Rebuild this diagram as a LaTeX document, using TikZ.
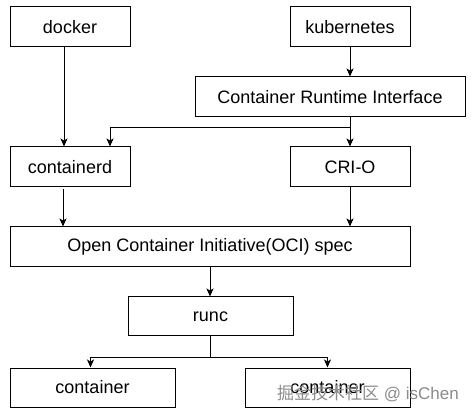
\documentclass[tikz,border=0pt]{standalone}
\usepackage{fontspec}
\setmainfont{Liberation Sans}
\newfontfamily\cjkfont{Noto Sans CJK SC}
\usetikzlibrary{arrows.meta,calc}
\tikzset{
  box/.style={draw=black, line width=1pt, rectangle, inner sep=0pt, font=\fontsize{18}{21}\selectfont},
  arr/.style={draw=black, line width=1pt, -{Stealth[length=8pt,width=7pt,inset=2pt]}},
  ln/.style={draw=black, line width=1pt},
}
\begin{document}
\begin{tikzpicture}[x=1pt,y=-1pt]
\useasboundingbox (0,0) rectangle (472,417);
\fill[white] (0,0) rectangle (472,417);
\node[box, minimum width=120pt, minimum height=40pt] (docker) at (70,27) {docker};
\node[box, minimum width=120pt, minimum height=40pt] (k8s) at (350,27) {kubernetes};
\node[box, minimum width=270pt, minimum height=40pt] (cri) at (330,97) {Container Runtime Interface};
\node[box, minimum width=120pt, minimum height=40pt] (ctrd) at (70,167) {containerd};
\node[box, minimum width=120pt, minimum height=40pt] (crio) at (350,167) {CRI-O};
\node[box, minimum width=400pt, minimum height=40pt] (oci) at (210,247) {Open Container Initiative(OCI) spec};
\node[box, minimum width=165pt, minimum height=39pt] (runc) at (210.5,316.5) {runc};
\node[box, minimum width=165pt, minimum height=39pt] (c1) at (92.5,387.5) {container};
\node[box, minimum width=165pt, minimum height=39pt] (c2) at (327.5,387.5) {container};

\draw[arr] ([xshift=-6pt]docker.south) -- ([xshift=-6pt]ctrd.north);
\draw[arr] (k8s.south) -- (k8s.south |- cri.north);
\coordinate (b) at ($(cri.south -| crio.north)+(0,10)$);
\draw[arr] (cri.south -| crio.north) -- (crio.north);
\draw[arr] (b) -| ([xshift=40pt]ctrd.north);
\draw[arr] ([xshift=-7pt,yshift=-2pt]ctrd.south) -- ([xshift=-7pt]ctrd.south |- oci.north);
\draw[arr] (crio.south) -- (crio.south |- oci.north);
\draw[arr] (oci.south) -- (oci.south |- runc.north);
\coordinate (j) at ($(runc.south)+(0,21)$);
\draw[ln] (runc.south) -- (j);
\draw[arr] (j) -| ([xshift=-2pt]c1.north);
\draw[arr] (j) -| (c2.north);

\node[text=black!45, font=\fontsize{17}{19}\selectfont, inner sep=0pt] (wm) at (368,393) {{\cjkfont 掘金技术社区} @ isChen};
\end{tikzpicture}
\end{document}
